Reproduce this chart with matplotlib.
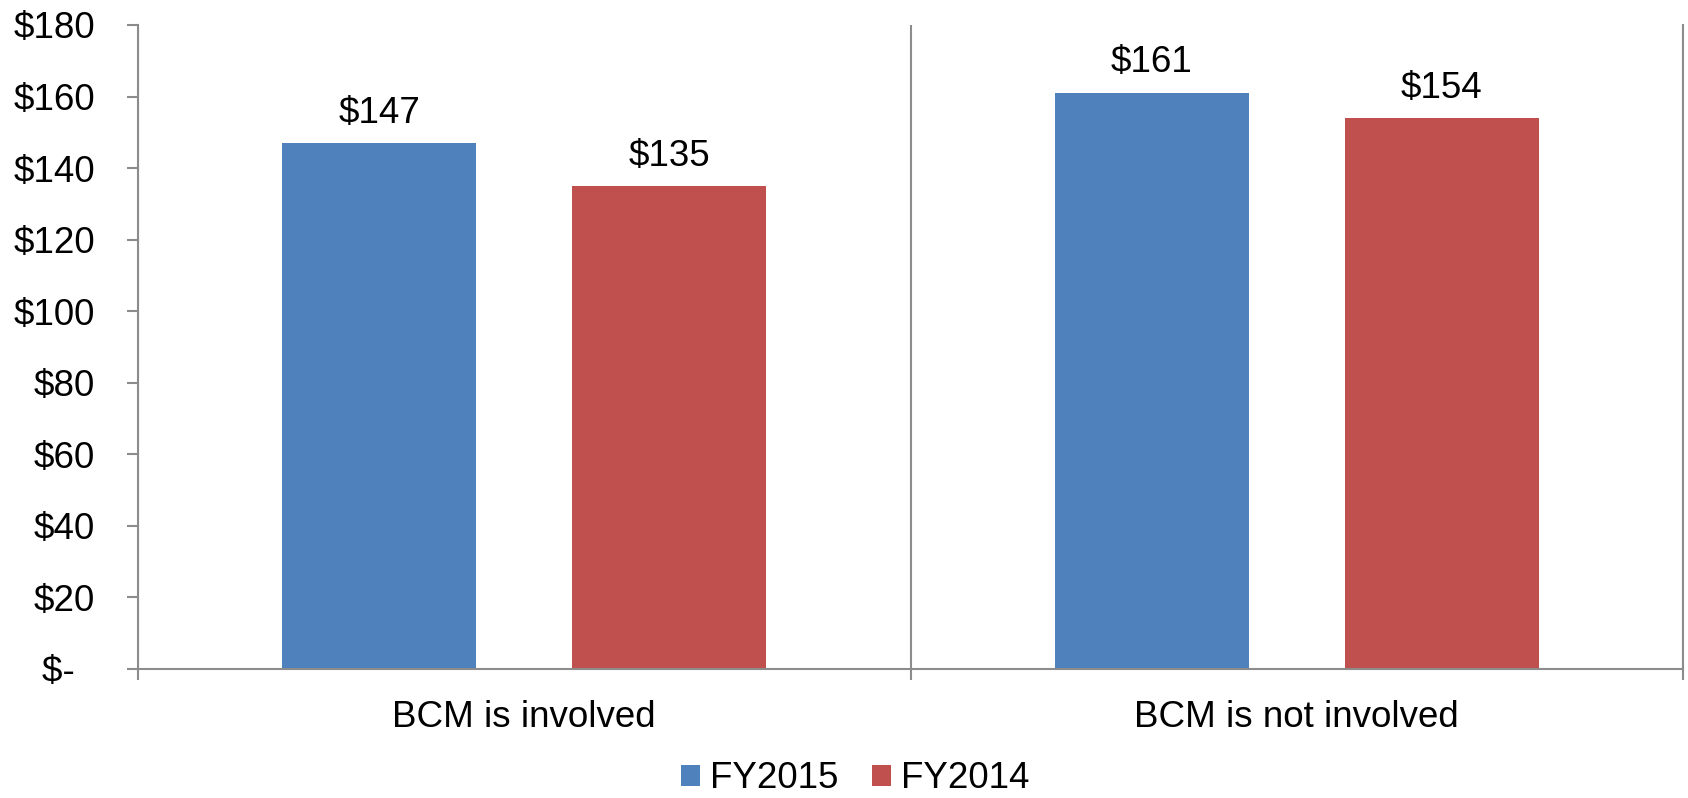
import numpy as np
import matplotlib
matplotlib.use("Agg")
import matplotlib.pyplot as plt

plt.rcParams['font.family'] = ['Liberation Sans', 'DejaVu Sans']

# data
categories = ['BCM is involved', 'BCM is not involved']
series = ['FY2015', 'FY2014']
fy2015 = [147, 161]
fy2014 = [135, 154]
yticks = [0, 20, 40, 60, 80, 100, 120, 140, 160, 180]
ytick_labels = ['$-  ', '$20', '$40', '$60', '$80', '$100', '$120', '$140', '$160', '$180']

blue = '#4F81BD'
red = '#C0504D'
gray = '#8C8C8C'
fs = 26.5

fig = plt.figure(figsize=(16.88, 7.98), dpi=100)
ax = fig.add_axes([138 / 1688, 1 - 669 / 798, (1683 - 138) / 1688, (669 - 25) / 798])

x = np.arange(len(categories))
w = 0.251
off = 0.1876
b1 = ax.bar(x - off, fy2015, w, color=blue, label=series[0])
b2 = ax.bar(x + off, fy2014, w, color=red, label=series[1])
for bars in (b1, b2):
    ax.bar_label(bars, labels=['$%d' % v for v in bars.datavalues],
                 padding=9, fontsize=fs)

ax.set_xlim(-0.5, 1.5)
ax.set_ylim(0, 180)
ax.set_yticks(yticks)
ax.set_yticklabels(ytick_labels)

# category labels on major ticks, boundary ticks as minor
ax.set_xticks(x)
ax.set_xticklabels(categories)
ax.set_xticks([-0.5, 0.5, 1.5], minor=True)
ax.tick_params(axis='x', which='major', length=0, pad=22, labelsize=fs)
ax.tick_params(axis='x', which='minor', length=8, width=1.5, color=gray)
ax.tick_params(axis='y', length=8, width=1.5, color=gray, pad=23, labelsize=fs)
ax.grid(axis='x', which='minor', color=gray, linewidth=1.5)
ax.set_axisbelow(True)

for s in ['left', 'bottom', 'right']:
    ax.spines[s].set_color(gray)
    ax.spines[s].set_linewidth(1.5)
ax.spines['top'].set_visible(False)

fig.legend(loc='center', bbox_to_anchor=(855 / 1688, 1 - 779 / 798), ncol=2,
           frameon=False, fontsize=fs, handlelength=0.52, handleheight=0.52,
           handletextpad=0.27, columnspacing=0.9, borderpad=0)

fig.savefig('out.png', dpi=100)
